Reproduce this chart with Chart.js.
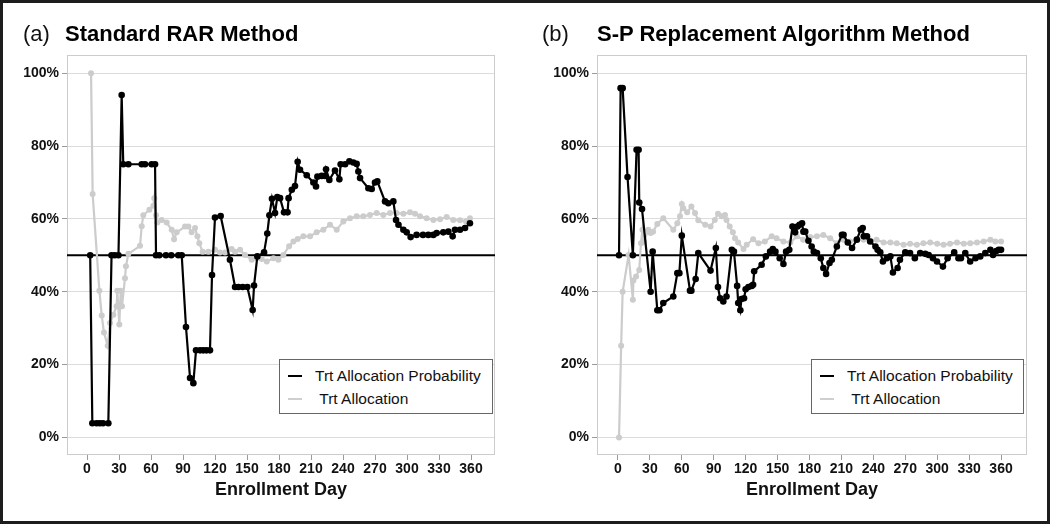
<!DOCTYPE html>
<html>
<head>
<meta charset="utf-8">
<script src="https://cdn.jsdelivr.net/npm/chart.js@4.4.0/dist/chart.umd.min.js"></script>
<style>
  html, body { margin: 0; padding: 0; background: #fff; }
  #wrap { position: relative; width: 1050px; height: 524px; overflow: hidden; font-family: "Liberation Sans", Arial, sans-serif; }
  #frame { position: absolute; left: 0; top: 0; width: 1050px; height: 524px; box-sizing: border-box; border: 3px solid #1c1c1c; pointer-events: none; z-index: 5; }
  .panel { position: absolute; top: 0; width: 525px; height: 524px; }
  .tag { position: absolute; top: 23px; font-size: 22px; line-height: 22px; color: #111; }
  .title { position: absolute; top: 23px; font-size: 22px; line-height: 22px; font-weight: bold; color: #000; white-space: nowrap; }
  .legend { position: absolute; top: 359px; height: 55px; box-sizing: border-box; border: 1px solid #666; background: #fff; font-size: 15.5px; color: #111; }
  .legend .row { position: absolute; left: 0; white-space: nowrap; line-height: 18px; }
  .legend .sym { position: absolute; width: 14px; height: 2px; top: 8px; }
  .legend .txt { position: absolute; white-space: nowrap; }
</style>
</head>
<body>
<div id="wrap">
  <div class="panel" style="left:0"><canvas id="chartA"></canvas></div>
  <div class="panel" style="left:525px"><canvas id="chartB"></canvas></div>

  <div class="tag" style="left:23px">(a)</div>
  <div class="title" style="left:65px">Standard RAR Method</div>
  <div class="tag" style="left:542px">(b)</div>
  <div class="title" style="left:597px">S-P Replacement Algorithm Method</div>

  <div class="legend" style="left:279px; width:214px">
    <div class="row" style="top:7px; width:212px"><span class="sym" style="left:8px; background:#000"></span><span class="txt" style="left:35px">Trt Allocation Probability</span></div>
    <div class="row" style="top:30px; width:212px"><span class="sym" style="left:8px; background:#cfcfcf"></span><span class="txt" style="left:35px">&nbsp;Trt Allocation</span></div>
  </div>
  <div class="legend" style="left:811px; width:213px">
    <div class="row" style="top:7px; width:211px"><span class="sym" style="left:8px; background:#000"></span><span class="txt" style="left:35px">Trt Allocation Probability</span></div>
    <div class="row" style="top:30px; width:211px"><span class="sym" style="left:8px; background:#cfcfcf"></span><span class="txt" style="left:35px">&nbsp;Trt Allocation</span></div>
  </div>

  <div id="frame"></div>
</div>

<script>
// axis ticks
const xTicks = [0, 30, 60, 90, 120, 150, 180, 210, 240, 270, 300, 330, 360];
const yTicks = [0, 20, 40, 60, 80, 100];
const refLevel = 50;

// (a) Standard RAR - treatment allocation probability
const rarProbDays = [3, 5, 9, 12, 15, 20, 23, 26, 29.5, 32.5, 34, 38.8, 51.3, 54.4, 60.6, 63.8, 64.7, 67.8, 74, 79, 85.6, 88.8,
  92.8, 96.6, 99.7, 102.2, 106, 109, 112, 115.3, 117.2, 120, 125.3, 134, 138.8, 142, 146, 150.3, 155.3, 156.6, 159.7,
  166, 169, 171, 173.4, 176.3, 178.4, 181, 184.7, 188, 189, 192, 195, 197.5, 199.7, 206, 212.2, 214.7, 216, 220, 223.1,
  224.1, 227.2, 232.5, 236.6, 237.8, 242, 246, 249.7, 252.8, 254.4, 256, 263.8, 266.9, 270, 272.2, 279.4, 282.5,
  287.2, 289.7, 292, 296.6, 299.7, 303.4, 309, 315, 320, 324.7, 327.8, 334, 338.8, 342.8, 345, 349.7, 354.4, 359];
const rarProbValues = [50, 3.9, 3.9, 3.9, 3.9, 3.9, 50, 50, 50, 94, 75, 75, 75, 75, 75, 75, 50, 50, 50, 50, 50, 50,
  30.3, 16.3, 14.9, 23.9, 23.9, 23.9, 23.9, 23.9, 44.6, 60.4, 60.8, 48.8, 41.3, 41.3, 41.3, 41.3, 35, 41.7, 49.7,
  50.8, 56, 61, 65.5, 61.6, 66, 65.7, 61.8, 61.8, 65.7, 68, 69, 75.7, 73.5, 72, 70, 68.9, 71.6, 71.8, 71.8,
  73.6, 70.7, 73.3, 70.9, 75, 75, 75.8, 75.5, 75.1, 73, 71.2, 68.4, 68.2, 70, 70.3, 64.8, 64.3,
  64.8, 59.7, 58.4, 57, 56.3, 55, 55.6, 55.6, 55.6, 55.6, 56.1, 56.3, 56.5, 55.2, 57, 57, 57.5, 58.8];

// (a) Standard RAR - observed treatment allocation
const rarAllocDays = [3.8, 5.3, 11.6, 13.8, 15.9, 19.4, 21.6, 24.7, 27.8, 28.4, 30.3, 31.6, 32.8, 35.6, 36.5, 38.8, 49.7,
  51.3, 52.8, 58.5, 62.2, 63.1, 64.7, 66, 70, 74.7, 79.4, 81.6, 84.1, 91.9, 95, 98.1, 101.3, 103.5, 105.3, 108.4,
  113.8, 120, 124.7, 129.4, 135.6, 138.8, 143.5, 148.1, 154.4, 159.1, 163.8, 168.5, 174.7, 179.4, 184.1, 189.5,
  193.5, 197.5, 202.8, 209.1, 215.3, 221.6, 227.8, 234.1, 240.3, 246.6, 252.8, 259.1, 265.3, 271.6, 277.8, 284.1,
  290.3, 296.6, 302.8, 307.5, 312.2, 318.4, 324.7, 331, 337.2, 343.4, 349.7, 355.3, 359];
const rarAllocValues = [100, 66.8, 40.3, 33.5, 28.8, 25.2, 31.4, 33.7, 36, 40.3, 31, 40.3, 36, 43.7, 47, 50.4, 52.6,
  58, 61, 62.5, 63.6, 65.7, 61, 59, 59.7, 59, 57, 54.4, 56.3, 57.9, 57.9, 56.3, 57.5, 55.2, 53.3, 51,
  51, 51.5, 50.8, 50.8, 51.7, 51, 51.5, 50.1, 48.8, 49.2, 49, 48.3, 49.2, 48.8, 50.1, 52.5,
  53.8, 54.5, 55.2, 55.2, 56.3, 57, 58.4, 57, 59.3, 60.2, 60.7, 60.7, 61.1, 61.6, 61.1, 61.6,
  61.6, 61.4, 61.8, 61.4, 60.7, 60.2, 59.7, 59.9, 60.5, 59.7, 59.6, 59.3, 60.2];

// (b) S-P replacement - treatment allocation probability
const spProbDays = [1, 2.5, 4.4, 9, 14, 17.5, 19.4, 20, 22.6, 30.7, 32.6, 37, 39, 42.6, 52, 55.8, 57.7, 60, 67.7, 69, 73,
  75.5, 87, 92, 94, 96, 99, 102, 107, 109, 112, 113, 115, 116, 118.5, 120, 122.6, 125.7, 127, 128, 135, 139, 143,
  145.5, 148, 152, 155.5, 158, 161, 164, 166.5, 168.7, 170.6, 173, 174.3, 176, 179, 182, 184, 187, 190.6, 193,
  195.6, 198.8, 201, 205.7, 210.5, 212, 216, 220, 224.5, 228, 230, 231, 234, 237, 242, 244, 246.5, 249, 252.7,
  256, 258.4, 262.8, 265, 270, 274.5, 279, 284, 288.8, 292, 296, 299.8, 305.4, 309.8, 316, 320, 322.3, 326.4,
  331, 336, 340.5, 345.2, 350, 352.5, 355.5, 357.8, 360];
const spProbValues = [50, 95.9, 95.9, 71.5, 50, 79, 79, 64.5, 62.7, 40, 51, 34.9, 34.9, 36.9, 38.7, 45.1, 45.1, 55.4, 40.3, 40.3, 43.5,
  50.6, 45.8, 52, 41.3, 38.2, 37.3, 38.7, 51.5, 51, 41.6, 36.9, 34.9, 38, 38.2, 40.7, 41.3, 41.6, 41.9, 45.6, 47.4, 49.7, 51,
  51.7, 51, 49.2, 47.6, 51, 51.5, 57.9, 56.3, 57.9, 58.4, 58.8, 56.5, 56.5, 54, 52.4, 51, 50.6, 49.2, 46.5,
  44.9, 47.9, 48.8, 52.4, 55.6, 55.6, 53.5, 52, 54.3, 57, 57.5, 55.2, 55.2, 53.8, 52.4, 51.5, 50.8, 48.3, 49.2,
  49.7, 45.3, 46.5, 48.8, 50.8, 50.6, 49.2, 50.6, 50.4, 50.1, 49.2, 48.3, 46.9, 49.2, 50.8, 49.2, 49.2, 50.6,
  48.3, 49.2, 49.7, 50.6, 51.5, 50.1, 51.2, 51.5, 51.5];

// (b) S-P replacement - observed treatment allocation
const spAllocDays = [1, 3, 4.4, 10, 14, 14.5, 17, 20, 21.6, 23, 24.5, 28.5, 30.7, 33, 37, 42.6, 52, 55.8, 58.3, 60, 61.4,
  65, 69, 72.4, 75.5, 82, 87, 91, 94, 97.5, 100.6, 102, 105, 108, 110, 113, 118, 121, 127, 132, 138, 144.5, 149,
  155.5, 162, 168, 174, 180.6, 187, 193, 199.4, 205.7, 212, 218, 224.5, 230.8, 237, 243, 249.6, 256, 262, 268.4,
  274.5, 280.9, 287, 293.4, 300, 306, 312, 318.6, 325, 331, 337.4, 343.7, 350, 354.6, 360];
const spAllocValues = [0, 25.2, 40, 50.1, 37.8, 43.1, 44.2, 46, 53.3, 57, 53.8, 57, 56.1, 56.5, 58.6, 60.2, 57, 58.8, 60.7, 64.1, 62.9,
  61.8, 63.4, 61.6, 59.6, 58.4, 57.9, 59.7, 61.4, 60.7, 61.1, 59.7, 57.9, 56.3, 54.7, 53.5, 51.7, 52.9, 54.4, 53.3, 53.8, 55.2, 54.7,
  53.8, 53.5, 55.2, 54.3, 55, 55.2, 55.6, 54.7, 53.3, 54.3, 53.8, 54.3, 54.3, 54.1, 54.3, 53.5, 53.5, 53.3, 52.9,
  53.2, 52.9, 53.3, 53.5, 53.2, 52.9, 53.2, 53.5, 53.2, 53.3, 53.5, 53.8, 54.3, 53.8, 53.8];

function toPoints(days, values) {
    return days.map((d, i) => ({ x: d, y: values[i] }));
}

// light grey box round the plot area + black reference line at 50%
const framePlugin = {
    id: 'frameAndRef',
    beforeDatasetsDraw(chart) {
        const { ctx, chartArea: a, scales } = chart;
        ctx.save();
        ctx.strokeStyle = '#cccccc';
        ctx.lineWidth = 1;
        ctx.strokeRect(a.left + 0.5, a.top + 0.5, a.right - a.left - 1, a.bottom - a.top - 1);
        const y = scales.y.getPixelForValue(refLevel);
        ctx.strokeStyle = '#000';
        ctx.lineWidth = 2;
        ctx.beginPath();
        ctx.moveTo(a.left, y);
        ctx.lineTo(a.right, y);
        ctx.stroke();
        ctx.restore();
    }
};

function makeChart(id, probPts, allocPts, opts) {
    const ctx = document.getElementById(id).getContext('2d');
    return new Chart(ctx, {
        type: 'line',
        data: {
            datasets: [{
                label: 'Trt Allocation Probability',
                data: probPts,
                borderColor: '#000',
                backgroundColor: '#000',
                borderWidth: 2.2,
                pointRadius: 3.3,
                pointBorderWidth: 0,
                tension: 0
            }, {
                label: 'Trt Allocation',
                data: allocPts,
                borderColor: '#cccccc',
                backgroundColor: '#cccccc',
                borderWidth: 2.2,
                pointRadius: 3,
                pointBorderWidth: 0,
                tension: 0
            }]
        },
        options: {
            responsive: false,
            animation: false,
            layout: { padding: { top: 55, right: opts.padRight, left: 0, bottom: 0 } },
            plugins: { legend: { display: false }, tooltip: { enabled: false } },
            scales: {
                x: {
                    type: 'linear',
                    min: opts.xMin,
                    max: opts.xMax,
                    afterBuildTicks: s => { s.ticks = xTicks.map(v => ({ value: v })); },
                    afterFit: s => { s.height = 69; },
                    grid: { drawOnChartArea: false, drawTicks: true, tickLength: 5, tickColor: '#9a9a9a' },
                    border: { display: false },
                    ticks: { color: '#111', padding: 1, maxRotation: 0, autoSkip: false,
                        font: { family: '"Liberation Sans", Arial, sans-serif', size: 14, weight: 'bold' } },
                    title: { display: true, text: 'Enrollment Day', color: '#111', padding: { top: 0, bottom: 23 },
                        font: { family: '"Liberation Sans", Arial, sans-serif', size: 18, weight: 'bold' } }
                },
                y: {
                    min: -4.83,
                    max: 105,
                    afterBuildTicks: s => { s.ticks = yTicks.map(v => ({ value: v })); },
                    afterFit: s => { s.width = opts.yWidth; },
                    grid: { color: '#dcdcdc', lineWidth: 1, drawTicks: true, tickLength: 5, tickColor: '#9a9a9a' },
                    border: { display: false },
                    ticks: { color: '#111', padding: 3, callback: v => v + '%',
                        font: { family: '"Liberation Sans", Arial, sans-serif', size: 14, weight: 'bold' } }
                }
            }
        },
        plugins: [framePlugin]
    });
}

function sizeCanvas(id) {
    const c = document.getElementById(id);
    c.width = 525; c.height = 524;
    c.style.width = '525px'; c.style.height = '524px';
}
sizeCanvas('chartA');
sizeCanvas('chartB');

makeChart('chartA', toPoints(rarProbDays, rarProbValues), toPoints(rarAllocDays, rarAllocValues),
    { xMin: -18.75, xMax: 382.5, padRight: 30, yWidth: 67 });
makeChart('chartB', toPoints(spProbDays, spProbValues), toPoints(spAllocDays, spAllocValues),
    { xMin: -19.7, xMax: 384.4, padRight: 23, yWidth: 72 });
</script>
</body>
</html>
